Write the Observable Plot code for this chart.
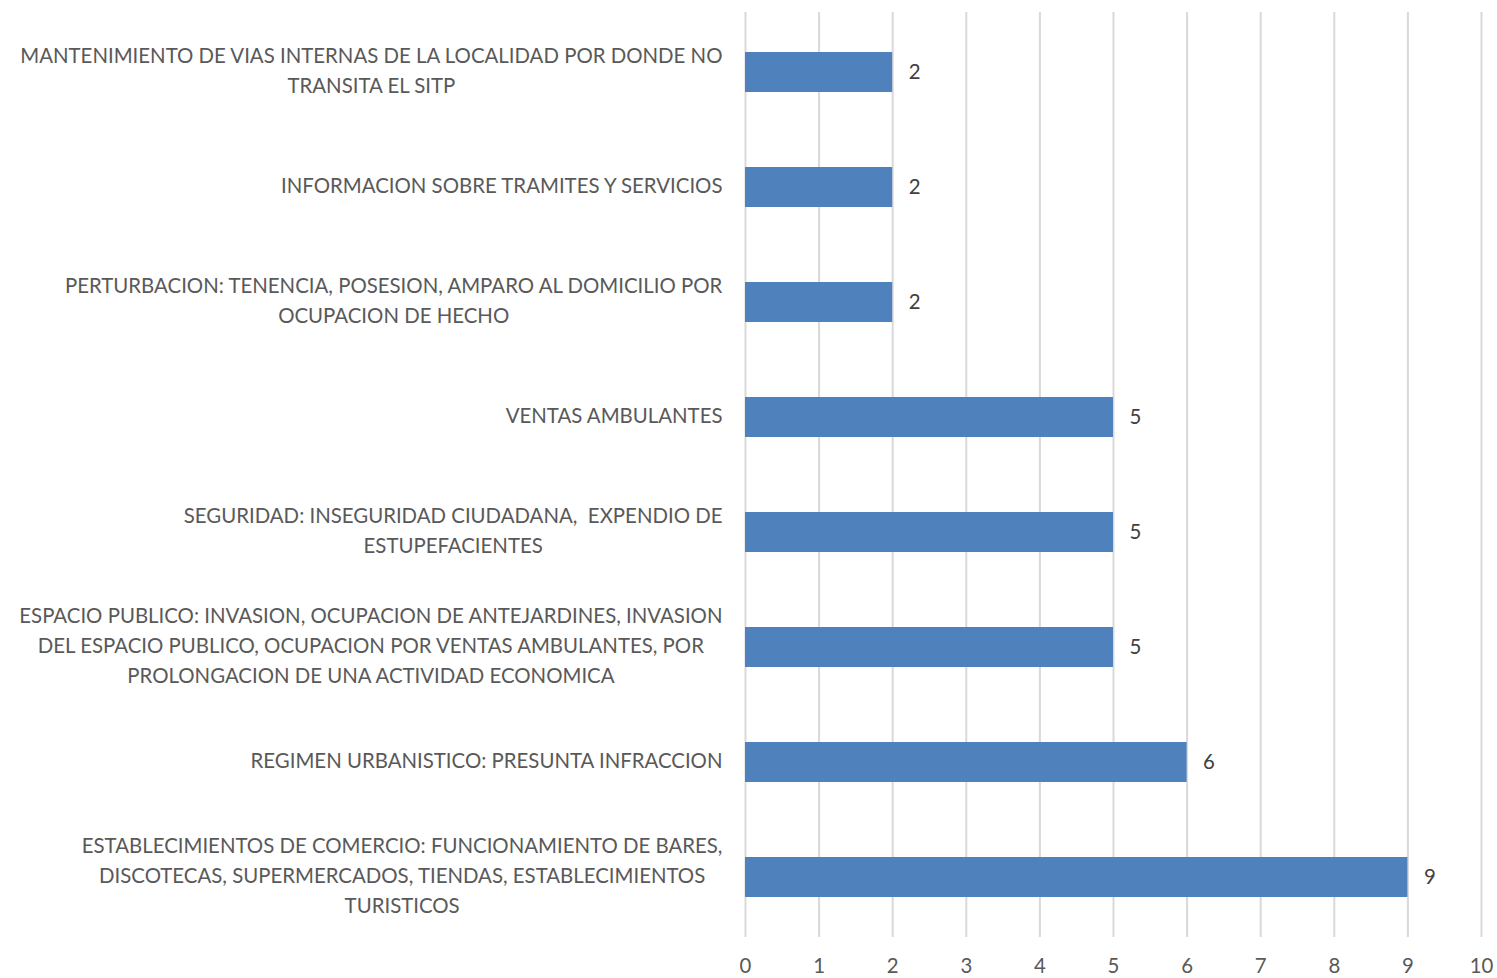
<!DOCTYPE html>
<html>
<head>
<meta charset="utf-8">
<script src="https://cdn.jsdelivr.net/npm/d3@7"></script>
<script src="https://cdn.jsdelivr.net/npm/@observablehq/plot@0.6"></script>
<style>
  html, body { margin: 0; padding: 0; background: #ffffff; }
  svg { display: block; }
</style>
</head>
<body>
<div id="chart"></div>
<script>
const categories = [
  "MANTENIMIENTO DE VIAS INTERNAS DE LA LOCALIDAD POR DONDE NO\nTRANSITA EL SITP",
  "INFORMACION SOBRE TRAMITES Y SERVICIOS",
  "PERTURBACION: TENENCIA, POSESION, AMPARO AL DOMICILIO POR\nOCUPACION DE HECHO",
  "VENTAS AMBULANTES",
  "SEGURIDAD: INSEGURIDAD CIUDADANA,  EXPENDIO DE\nESTUPEFACIENTES",
  "ESPACIO PUBLICO: INVASION, OCUPACION DE ANTEJARDINES, INVASION\nDEL ESPACIO PUBLICO, OCUPACION POR VENTAS AMBULANTES, POR\nPROLONGACION DE UNA ACTIVIDAD ECONOMICA",
  "REGIMEN URBANISTICO: PRESUNTA INFRACCION",
  "ESTABLECIMIENTOS DE COMERCIO: FUNCIONAMIENTO DE BARES,\nDISCOTECAS, SUPERMERCADOS, TIENDAS, ESTABLECIMIENTOS\nTURISTICOS"
];
const values = [2, 2, 2, 5, 5, 5, 6, 9];
const xTicks = [0, 1, 2, 3, 4, 5, 6, 7, 8, 9, 10];

const data = categories.map((c, i) => ({cat: c, value: values[i]}));
const FONT = "Lato, 'Open Sans', sans-serif";

const plot = Plot.plot({
  width: 1497,
  height: 978,
  marginLeft: 745,
  marginRight: 16,
  marginTop: 12,
  marginBottom: 41,
  style: {fontFamily: FONT, fontSize: "20px", background: "#ffffff"},
  x: {domain: [0, 10], ticks: xTicks, label: null},
  y: {domain: categories, paddingInner: 0.65, paddingOuter: 0.325, axis: null},
  marks: [
    Plot.ruleX(xTicks, {stroke: "#d9d9d9", strokeWidth: 2}),
    Plot.barX(data, {y: "cat", x: "value", fill: "#4f81bd"}),
    Plot.text(data, {y: "cat", x: "value", text: d => String(d.value), textAnchor: "start", dx: 16, fill: "#404040", fontSize: 20.4}),
    Plot.text(data, {y: "cat", text: "cat", frameAnchor: "left", dx: -23, dy: -4, textAnchor: "middle", lineHeight: 1.45, fill: "#595959", fontSize: 20.4, className: "catlabels"}),
    Plot.axisX({ticks: xTicks, tickSize: 0, tickPadding: 21, fontSize: 20.4, color: "#595959", label: null, tickFormat: d => String(d)})
  ]
});

document.getElementById("chart").append(plot);

// Right-align each centered label block against the axis
plot.querySelectorAll(".catlabels text").forEach(t => {
  const w = t.getBBox().width;
  const tr = t.getAttribute("transform") || "";
  t.setAttribute("transform", tr + ` translate(${-w / 2},0)`);
});
</script>
</body>
</html>
